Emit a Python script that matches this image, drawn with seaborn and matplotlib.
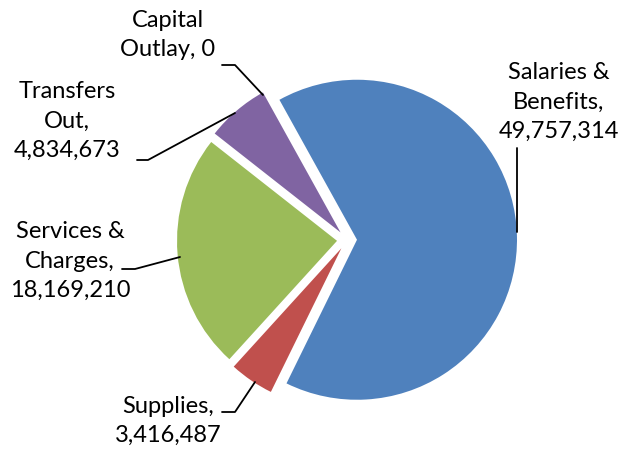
import numpy as np
import matplotlib
matplotlib.use("Agg")
import matplotlib.pyplot as plt
import seaborn as sns

categories = ["Salaries &\nBenefits,", "Supplies,", "Services &\nCharges,", "Transfers\nOut,", "Capital\nOutlay,"]
values = [49757314, 3416487, 18169210, 4834673, 0]
colors = ["#4F81BD", "#C0504D", "#9BBB59", "#8064A2", "#F79646"]

sns.set_theme(style="white")
plt.rcParams["font.family"] = ["Lato", "DejaVu Sans"]

W, H = 621, 451
fig = plt.figure(figsize=(W / 100, H / 100), dpi=100)
ax = fig.add_axes([0, 0, 1, 1])

# pie centre and radius in pixels
cx, cy, R = 347, 240, 160


def px(x, y):
    return (x - cx) / R, (cy - y) / R


ax.pie(values, colors=colors, startangle=119, counterclock=False,
       explode=[0.0625] * len(values), radius=1,
       wedgeprops=dict(linewidth=0))

ax.set_xlim(-cx / R, (W - cx) / R)
ax.set_ylim(-(H - cy) / R, cy / R)
ax.set_aspect("equal")
ax.axis("off")

# value 0 goes on the same line as its category
labels = [f"{c} {v:,}" if v == 0 else f"{c}\n{v:,}" for c, v in zip(categories, values)]

# label block centres (pixels) and leader lines
label_pos = [(559, 102), (168, 421), (70, 261), (67, 121), (168, 35)]
leaders = [
    [(517, 148), (517, 232)],
    [(222, 412), (235, 412), (255, 382)],
    [(122, 269), (135, 269), (180, 257)],
    [(137, 160), (148, 160), (235, 113)],
    [(222, 65), (235, 65), (263, 95)],
]

for lab, (lx, ly), line in zip(labels, label_pos, leaders):
    ax.text(*px(lx, ly), lab, ha="center", va="center", fontsize=17,
            linespacing=1.5, color="black")
    pts = np.array([px(x, y) for x, y in line])
    ax.plot(pts[:, 0], pts[:, 1], color="black", lw=1.3)

fig.savefig("out.png", dpi=100)
